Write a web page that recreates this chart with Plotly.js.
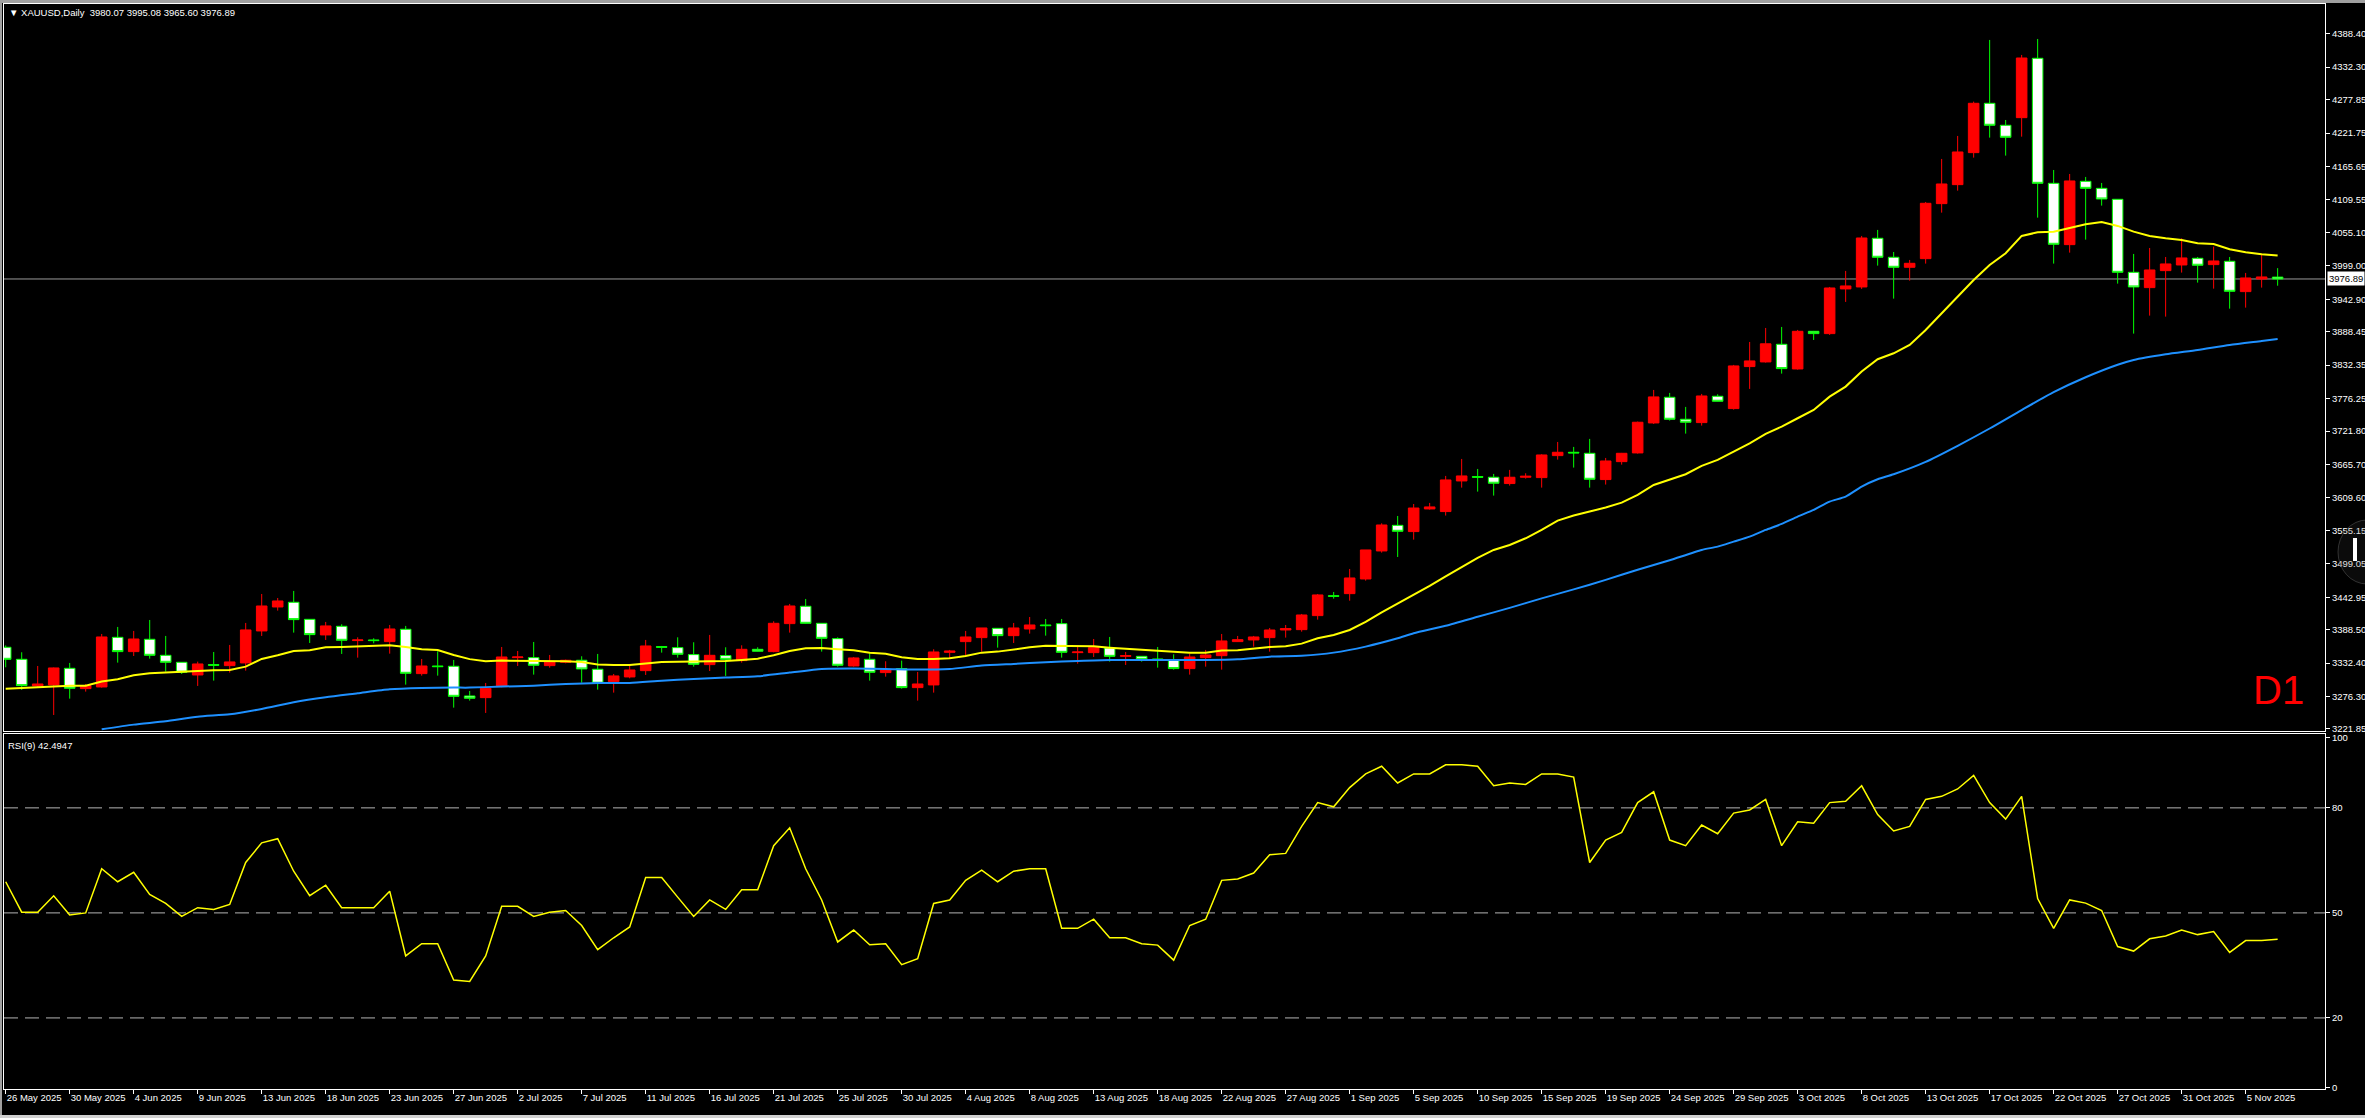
<!DOCTYPE html>
<html><head><meta charset="utf-8">
<script src="https://cdn.plot.ly/plotly-3.0.1.min.js"></script>
<style>html,body{margin:0;padding:0;background:#000;overflow:hidden}#chart{width:2365px;height:1118px}</style>
</head><body><div id="chart"></div>
<script>
// ---- DATA (XAUUSD Daily, bars from 26 May 2025 to 7 Nov 2025, incl. Sunday bars) ----
const opens = [3358.9,3338.7,3294.0,3295.7,3323.6,3289.5,3292.3,3375.6,3351.6,3372.3,3345.4,3333.7,3312.4,3329.8,3328.1,3332.6,3386.3,3426.5,3434.4,3405.8,3379.6,3394.1,3370.1,3371.2,3368.4,3389.1,3314.7,3327.5,3327.0,3277.2,3274.4,3292.9,3341.5,3341.5,3328.1,3333.7,3337.1,3322.0,3301.3,3309.1,3319.7,3360.0,3358.3,3346.6,3329.8,3344.9,3336.5,3355.5,3351.6,3398.6,3427.7,3399.1,3373.4,3327.5,3338.7,3316.4,3323.1,3291.2,3295.7,3350.4,3368.4,3375.1,3390.7,3378.4,3389.6,3396.3,3398.5,3349.9,3349.9,3357.7,3343.7,3343.7,3339.3,3337.6,3323.1,3341.5,3344.8,3368.4,3371.2,3375.1,3387.9,3388.5,3412.0,3445.5,3448.9,3473.5,3520.5,3563.5,3553.0,3591.0,3586.6,3638.0,3645.3,3644.2,3633.6,3644.2,3643.6,3680.5,3686.1,3684.4,3640.3,3670.4,3685.0,3735.3,3778.4,3741.5,3735.9,3780.1,3759.4,3829.9,3837.7,3867.3,3825.9,3889.1,3885.2,3960.2,3963.5,4045.2,4013.3,3996.5,4011.0,4103.3,4135.2,4188.9,4271.7,4234.8,4247.6,4347.2,4137.4,4034.5,4140.8,4129.0,4110.6,3988.1,3962.4,3990.9,4000.4,4011.6,4001.0,4006.6,3955.7,3976.9,3980.07];
const highs = [3362.0,3350.5,3327.5,3325.0,3332.6,3297.3,3381.2,3393.0,3386.3,3404.7,3377.9,3333.7,3334.8,3351.0,3362.8,3399.7,3448.3,3441.6,3453.4,3405.8,3401.4,3397.5,3375.6,3374.0,3396.3,3394.7,3339.3,3352.2,3337.6,3285.6,3299.0,3359.4,3352.7,3367.8,3346.0,3338.2,3343.8,3347.7,3314.1,3330.9,3371.2,3361.1,3375.6,3367.3,3379.6,3358.9,3362.2,3358.9,3402.5,3431.6,3440.0,3399.1,3375.6,3342.6,3348.8,3335.4,3336.5,3317.5,3355.5,3354.4,3386.3,3391.3,3390.7,3399.7,3409.7,3406.4,3406.4,3360.0,3372.8,3376.2,3351.0,3343.7,3359.4,3347.1,3348.2,3354.4,3381.2,3377.9,3377.9,3391.3,3396.3,3414.8,3448.3,3451.7,3490.3,3522.2,3566.9,3579.2,3599.3,3601.1,3646.4,3674.9,3658.1,3649.8,3656.5,3650.9,3682.8,3703.4,3695.1,3708.5,3676.6,3685.0,3737.6,3790.7,3785.7,3762.2,3784.0,3783.4,3832.7,3871.2,3894.7,3896.4,3891.4,3889.7,3963.5,3990.4,4049.1,4059.2,4022.2,4008.8,4106.1,4178.3,4216.9,4274.5,4378.0,4243.7,4352.8,4379.6,4159.8,4153.1,4148.1,4138.0,4110.6,4018.9,4028.9,4013.8,4045.2,4013.8,4031.2,4013.8,3987.0,4017.2,3995.08];
const lows = [3325.3,3287.3,3291.8,3245.3,3272.7,3284.5,3291.2,3333.1,3344.3,3339.8,3318.0,3314.1,3294.0,3302.9,3316.4,3319.7,3377.9,3420.4,3383.5,3366.1,3371.2,3347.7,3341.5,3365.6,3348.2,3296.2,3311.3,3311.3,3257.6,3269.4,3248.7,3291.8,3327.5,3313.0,3324.7,3332.0,3299.6,3287.8,3282.8,3306.8,3312.4,3349.9,3341.5,3326.4,3319.1,3310.8,3333.1,3351.6,3350.5,3383.5,3398.0,3351.6,3326.4,3326.4,3302.9,3309.6,3289.5,3269.4,3282.8,3340.4,3344.3,3351.6,3358.3,3366.1,3381.8,3378.4,3341.5,3331.4,3342.6,3334.8,3329.2,3334.8,3324.7,3321.4,3313.0,3326.4,3321.4,3367.8,3360.0,3351.6,3375.1,3385.1,3405.3,3440.5,3437.1,3470.7,3517.7,3510.4,3539.5,3589.9,3579.9,3626.8,3620.1,3613.4,3630.2,3641.9,3626.8,3673.8,3660.4,3626.8,3631.9,3665.4,3683.9,3733.6,3739.3,3717.4,3730.9,3771.1,3757.7,3792.4,3836.6,3818.1,3824.8,3874.6,3883.0,3938.4,3960.2,3999.3,3943.9,3974.1,4002.7,4088.2,4125.1,4180.5,4214.1,4183.9,4215.7,4079.8,4002.7,4021.1,4042.9,4100.0,3969.1,3885.2,3915.4,3913.7,3987.6,3970.8,3960.7,3927.1,3928.8,3962.4,3965.60];
const closes = [3338.7,3294.5,3297.3,3324.2,3290.1,3294.5,3376.2,3351.6,3372.8,3345.4,3333.7,3316.9,3330.9,3328.7,3334.3,3388.0,3428.2,3436.6,3405.3,3380.1,3394.7,3370.6,3371.2,3370.1,3389.6,3315.2,3327.5,3326.4,3276.6,3273.3,3290.1,3342.6,3342.6,3328.7,3334.8,3337.1,3322.5,3298.5,3310.8,3320.8,3361.1,3358.9,3347.1,3330.3,3345.4,3338.7,3355.5,3352.2,3399.1,3428.2,3399.1,3373.9,3328.7,3341.0,3316.9,3320.8,3291.2,3297.3,3351.0,3352.6,3376.2,3391.3,3378.4,3391.3,3396.3,3395.2,3350.4,3351.0,3358.3,3343.7,3344.8,3338.7,3338.2,3323.1,3342.6,3346.0,3369.5,3371.7,3376.2,3387.9,3390.2,3413.1,3446.7,3444.4,3475.2,3522.2,3564.1,3553.5,3592.6,3594.4,3639.7,3646.4,3644.2,3634.1,3644.2,3645.8,3681.6,3686.1,3685.0,3640.8,3671.5,3684.4,3736.5,3779.0,3741.5,3736.5,3780.6,3771.7,3831.0,3839.4,3868.1,3826.5,3889.1,3885.2,3961.8,3965.2,4045.7,4013.3,3996.5,4003.2,4103.9,4136.3,4190.0,4271.7,4234.8,4214.6,4347.7,4137.4,4035.1,4141.4,4129.0,4111.1,3988.1,3963.5,3992.0,4002.1,4012.2,3999.9,4007.1,3956.2,3978.6,3980.3,3976.89];
// fast moving average (yellow), one value per bar
const maFast = [3289.5,3290.6,3291.8,3294.0,3294.5,3294.5,3301.3,3305.2,3311.9,3315.2,3316.9,3318.0,3319.1,3320.3,3320.8,3326.4,3339.3,3345.4,3352.7,3353.8,3358.9,3359.4,3360.0,3361.1,3362.2,3359.4,3355.5,3354.4,3346.0,3339.0,3335.4,3336.5,3336.5,3336.5,3336.5,3335.4,3334.3,3329.8,3329.2,3329.2,3331.5,3334.3,3334.8,3334.8,3335.9,3335.9,3337.6,3339.8,3345.4,3352.7,3357.2,3357.7,3355.5,3353.8,3349.9,3348.2,3342.1,3339.3,3339.3,3340.5,3344.3,3349.9,3351.6,3355.5,3358.8,3361.6,3361.6,3361.6,3360.5,3358.3,3356.6,3354.9,3354.4,3351.6,3349.9,3349.9,3353.3,3353.8,3356.6,3359.4,3360.5,3365.0,3373.9,3379.5,3387.9,3401.4,3417.6,3432.1,3447.8,3462.0,3478.0,3494.0,3509.0,3522.2,3530.6,3541.8,3555.8,3571.5,3579.9,3586.6,3593.3,3601.6,3614.5,3631.3,3639.7,3649.2,3663.2,3673.3,3687.2,3701.2,3716.9,3729.2,3743.2,3757.1,3779.5,3796.3,3821.5,3842.2,3852.2,3866.2,3891.4,3919.3,3947.3,3975.2,4000.4,4020.0,4049.1,4055.2,4056.3,4061.9,4068.6,4072.6,4065.9,4056.3,4049.1,4045.2,4042.4,4036.7,4035.6,4026.7,4021.7,4018.3,4016.1];
// slow moving average (blue), read at these bars
const maSlowBars = [6,8,10,12,14,16,18,20,22,24,26,28,29,31,33,35,37,39,41,43,45,47,49,51,53,55,57,59,61,63,65,67,69,71,73,75,77,79,81,83,85,87,88,90,92,94,96,98,100,102,104,106,107,108,109,110,111,112,113,114,115,116,117,118,120,122,124,126,128,130,132,133,135,137,139,141,142];
const maSlow = [3221.3,3229.1,3234.7,3242.5,3246.4,3255.4,3266.6,3275.0,3281.7,3288.4,3290.6,3291.2,3291.2,3292.9,3294.5,3297.3,3299.0,3299.0,3302.9,3305.7,3308.0,3310.2,3316.4,3322.5,3323.1,3322.5,3321.4,3322.5,3328.1,3330.9,3333.7,3335.9,3337.6,3337.6,3337.6,3337.6,3338.7,3343.2,3344.8,3349.9,3360.0,3373.9,3382.3,3395.0,3410.0,3425.0,3441.0,3456.0,3472.0,3489.0,3505.0,3522.2,3527.8,3536.2,3544.6,3555.8,3565.9,3578.2,3589.4,3603.3,3611.7,3628.5,3640.8,3649.2,3670.0,3697.0,3726.0,3757.0,3787.0,3812.0,3833.0,3841.0,3850.5,3857.8,3866.2,3872.9,3876.3];
// RSI(9), one value per bar
const rsi = [58.9,50.2,50.2,54.9,49.4,50.0,62.6,58.9,61.6,55.3,52.7,49.0,51.5,51.0,52.4,64.4,70.0,71.2,61.9,54.9,57.9,51.5,51.5,51.5,56.2,37.7,41.2,41.2,30.8,30.4,37.7,51.9,51.9,49.0,50.2,50.7,46.4,39.5,42.9,46.0,60.1,60.1,54.5,49.0,53.7,51.0,56.6,56.6,69.2,74.3,62.6,53.7,41.7,45.1,40.9,41.2,35.2,36.9,52.7,53.7,59.3,62.2,58.9,61.9,62.6,62.6,45.6,45.6,48.2,42.9,42.9,41.2,40.8,36.5,46.4,48.2,59.3,59.7,61.4,66.6,67.0,74.7,81.5,80.3,85.8,89.7,91.9,87.1,89.7,89.7,92.3,92.3,91.9,86.3,87.1,86.7,89.7,89.7,88.8,64.4,70.8,73.0,81.5,84.6,70.8,69.2,75.1,72.6,78.5,79.4,82.4,69.2,76.0,75.6,81.5,81.9,86.3,78.1,73.4,74.7,82.4,83.3,85.4,89.3,81.5,76.8,83.3,54.1,45.6,53.7,52.8,50.7,40.4,39.1,42.6,43.4,45.1,43.8,44.7,38.7,42.1,42.1,42.49];
const priceTicks = [4388.40,4332.30,4277.85,4221.75,4165.65,4109.55,4055.10,3999.00,3942.90,3888.45,3832.35,3776.25,3721.80,3665.70,3609.60,3555.15,3499.05,3442.95,3388.50,3332.40,3276.30,3221.85];
const rsiTicks = [0,20,50,80,100];
const rsiLevels = [20,50,80];
const dateTickLabels = ['26 May 2025','30 May 2025','4 Jun 2025','9 Jun 2025','13 Jun 2025','18 Jun 2025','23 Jun 2025','27 Jun 2025','2 Jul 2025','7 Jul 2025','11 Jul 2025','16 Jul 2025','21 Jul 2025','25 Jul 2025','30 Jul 2025','4 Aug 2025','8 Aug 2025','13 Aug 2025','18 Aug 2025','22 Aug 2025','27 Aug 2025','1 Sep 2025','5 Sep 2025','10 Sep 2025','15 Sep 2025','19 Sep 2025','24 Sep 2025','29 Sep 2025','3 Oct 2025','8 Oct 2025','13 Oct 2025','17 Oct 2025','22 Oct 2025','27 Oct 2025','31 Oct 2025','5 Nov 2025'];
const barsPerDateTick = 4;
const lastQuote = {open: 3980.07, high: 3995.08, low: 3965.60, close: 3976.89};
const rsiLast = '42.4947';

// ---- derived ----
const bars = opens.map((_, i) => i);
const dateTickVals = dateTickLabels.map((_, k) => k * barsPerDateTick);

// pixel helpers for layout placement (plot area: x 4..2325, y 4..1089)
const PL = 4, PR = 2325, PT = 4, PB = 1089;
const px = x => (x - PL) / (PR - PL);
const py = y => (PB - y) / (PB - PT);

const FONT = 'Liberation Sans, Arial, DejaVu Sans, sans-serif';
const xRange = [-0.106, 144.96];

const traces = [
  {type:'candlestick', x:bars, open:opens, high:highs, low:lows, close:closes,
   xaxis:'x', yaxis:'y', whiskerwidth:0, hoverinfo:'skip',
   increasing:{line:{color:'#ff0000', width:1}, fillcolor:'#ff0000'},
   decreasing:{line:{color:'#00ff00', width:1}, fillcolor:'#ffffff'}},
  {type:'scatter', mode:'lines', x:bars, y:maFast, xaxis:'x', yaxis:'y',
   line:{color:'#ffff00', width:2}, hoverinfo:'skip'},
  {type:'scatter', mode:'lines', x:maSlowBars, y:maSlow, xaxis:'x', yaxis:'y',
   line:{color:'#1e90ff', width:2, shape:'spline', smoothing:0.6}, hoverinfo:'skip'},
  {type:'scatter', mode:'lines', x:bars, y:rsi, xaxis:'x2', yaxis:'y2',
   line:{color:'#ffff00', width:1.5}, hoverinfo:'skip'}
];

const shapes = [];
rsiLevels.forEach(v => shapes.push({type:'line', xref:'paper', yref:'y2', x0:0, x1:1, y0:v, y1:v,
  line:{color:'#b4b4b4', width:1, dash:'14px,7px'}, layer:'below'}));
shapes.push({type:'line', xref:'paper', yref:'y', x0:0, x1:1, y0:lastQuote.close, y1:lastQuote.close,
  line:{color:'#9a9a9a', width:1}, layer:'below'});
// window frame (grey edges)
shapes.push({type:'rect', xref:'paper', yref:'paper', x0:px(0), x1:px(2365), y0:py(0), y1:py(3), fillcolor:'#a0a0a0', line:{width:0}});
shapes.push({type:'rect', xref:'paper', yref:'paper', x0:px(0), x1:px(2), y0:py(1118), y1:py(0), fillcolor:'#a0a0a0', line:{width:0}});
shapes.push({type:'rect', xref:'paper', yref:'paper', x0:px(0), x1:px(2365), y0:py(1118), y1:py(1115), fillcolor:'#d0d0d0', line:{width:0}});
// collapsed side-panel handle at right edge (faint)
shapes.push({type:'circle', xref:'paper', yref:'paper', x0:px(2338), x1:px(2396), y0:py(520), y1:py(584),
  fillcolor:'rgba(60,60,60,0.18)', line:{color:'rgba(80,80,80,0.6)', width:1}, layer:'above'});
shapes.push({type:'rect', xref:'paper', yref:'paper', x0:px(2353), x1:px(2357), y0:py(561), y1:py(538),
  fillcolor:'#ffffff', line:{width:0}, layer:'above'});

const annotations = [
  {xref:'paper', yref:'paper', x:px(7), y:py(12.5), xanchor:'left', yanchor:'middle', showarrow:false,
   text:'\u25BC XAUUSD,Daily  ' + [lastQuote.open, lastQuote.high, lastQuote.low, lastQuote.close].map(v => v.toFixed(2)).join(' '),
   font:{family:FONT, size:9.5, color:'#ffffff'}},
  {xref:'paper', yref:'paper', x:px(6), y:py(745), xanchor:'left', yanchor:'middle', showarrow:false,
   text:'RSI(9) ' + rsiLast, font:{family:FONT, size:9.5, color:'#ffffff'}},
  {xref:'paper', yref:'y', x:1, y:lastQuote.close, xanchor:'left', yanchor:'middle', xshift:2, showarrow:false,
   text:lastQuote.close.toFixed(2), bgcolor:'#ffffff', borderpad:1, font:{family:FONT, size:9.5, color:'#000000'}},
  {xref:'paper', yref:'paper', x:px(2306), y:py(690), xanchor:'right', yanchor:'middle', showarrow:false,
   text:'D1', font:{family:FONT, size:40, color:'#ff0000'}}
];

const axisCommon = {showgrid:false, zeroline:false, showline:true, mirror:true, linecolor:'#ffffff', linewidth:1, fixedrange:true};

const layout = {
  width:2365, height:1118,
  margin:{l:PL, r:2365-PR, t:PT, b:1118-PB},
  paper_bgcolor:'#000000', plot_bgcolor:'#000000',
  showlegend:false, hovermode:false,
  boxgap:0.34, boxgroupgap:0,
  font:{family:FONT, size:9.5, color:'#ffffff'},
  xaxis:Object.assign({}, axisCommon, {anchor:'y', domain:[0,1], range:xRange, showticklabels:false, ticks:'', rangeslider:{visible:false}}),
  xaxis2:Object.assign({}, axisCommon, {anchor:'y2', domain:[0,1], range:xRange, matches:'x',
    tickmode:'array', tickvals:dateTickVals, ticktext:dateTickLabels, ticks:'outside', ticklen:4, tickcolor:'#ffffff',
    ticklabelposition:'outside right', tickfont:{family:FONT, size:9.5, color:'#ffffff'}}),
  yaxis:Object.assign({}, axisCommon, {anchor:'x', domain:[py(731), 1], range:[3218.4, 4438.3], side:'right',
    tickmode:'array', tickvals:priceTicks, ticktext:priceTicks.map(v => v.toFixed(2)), ticks:'outside', ticklen:4, tickcolor:'#ffffff',
    tickfont:{family:FONT, size:9.5, color:'#ffffff'}}),
  yaxis2:Object.assign({}, axisCommon, {anchor:'x2', domain:[0, py(734)], range:[-0.3, 101.1], side:'right',
    tickmode:'array', tickvals:rsiTicks, ticktext:rsiTicks.map(String), ticks:'outside', ticklen:4, tickcolor:'#ffffff',
    tickfont:{family:FONT, size:9.5, color:'#ffffff'}}),
  shapes:shapes, annotations:annotations
};

Plotly.newPlot('chart', traces, layout, {staticPlot:true, displayModeBar:false});
</script>
</body></html>
